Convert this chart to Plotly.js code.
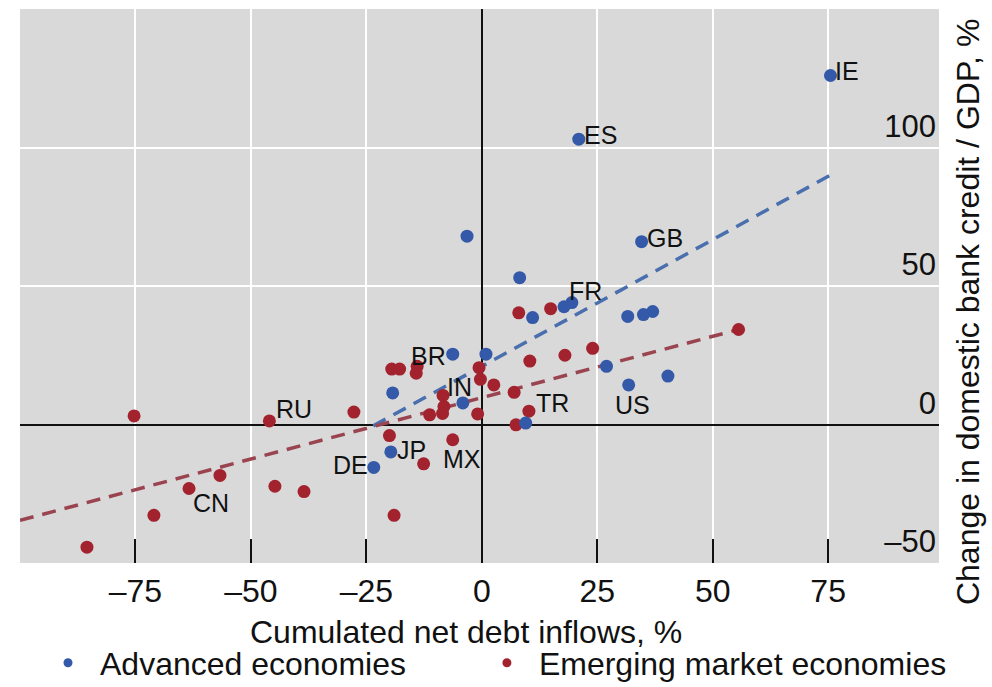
<!DOCTYPE html>
<html>
<head>
<meta charset="utf-8">
<script src="https://cdn.plot.ly/plotly-3.0.1.min.js"></script>
<style>
html,body{margin:0;padding:0;background:#fff;}
#chart{width:992px;height:687px;}
</style>
</head>
<body>
<div id="chart"></div>
<script>
// Advanced economies
const advX = [75.5, 21, 34.6, -3.2, 8.2, 17.8, 19.5, 11, 31.6, 35, 37, 27, 31.8, 40.3, 0.9, -6.3, -19.3, -4.1, -19.7, -23.4, 9.5];
const advY = [126, 103, 66, 68, 53, 42.5, 44, 38.6, 39, 39.7, 40.8, 21, 14.3, 17.5, 25.4, 25.4, 11.4, 7.8, -9.9, -15.5, 0.5];
// Emerging market economies
const emX = [55.6, 14.9, 8, 24, 18, 10.4, -0.6, -0.3, 2.6, 7, 10.2, 7.4, -0.9, -19.5, -17.8, -14, -14.2, -8.4, -8.2, -8.5, -11.3, -27.7, -20, -6.3, -12.6, -19, -46, -75.3, -56.7, -63.4, -44.8, -38.5, -71, -85.5];
const emY = [34.3, 41.8, 40.3, 27.5, 25, 22.9, 20.5, 16.3, 14.3, 11.6, 4.8, -0.1, 3.8, 20, 20, 21, 18.5, 10.5, 6.5, 4, 3.5, 4.5, -4, -5.5, -14.2, -32.8, 1.3, 3.1, -18.4, -23.1, -22.3, -24.2, -32.8, -44.3];
// Trend lines (end points)
const advTrendX = [-23.5, 76];
const advTrendY = [-0.5, 90.5];
const emTrendX = [-100, 55.6];
const emTrendY = [-34.6, 34.3];
// Country labels and the point they belong to
const labelCodes = ["IE", "ES", "GB", "FR", "BR", "IN", "US", "TR", "RU", "CN", "JP", "DE", "MX"];
const labelX = [75.5, 21, 34.6, 19.5, -6.3, -8.4, 31.8, 10.2, -46, -63.4, -19.7, -23.4, -6.3];
const labelY = [126, 103, 66, 44, 25.4, 10.5, 14.3, 4.8, 1.3, -23.1, -9.9, -15.5, -5.5];
const xTicks = [-75, -50, -25, 0, 25, 50, 75];
const yTicks = [-50, 0, 50, 100];
const seriesNames = ["Advanced economies", "Emerging market economies"];
const xTitle = "Cumulated net debt inflows, %";
const yTitle = "Change in domestic bank credit / GDP, %";

const BLUE = "#3459a8";
const RED = "#a2222e";
const FONT = "Liberation Sans, Arial, sans-serif";
const TXT = "#111111";

// label placement styling: [xanchor, yanchor, xshift, yshift]
const labelStyle = {
  IE: ["left", "middle", 3, 4],
  ES: ["left", "middle", 3, 4],
  GB: ["left", "middle", 3, 4],
  FR: ["left", "middle", -5, 12],
  BR: ["right", "middle", -5, -2],
  IN: ["left", "middle", 2, 8],
  US: ["center", "middle", 4, -20],
  TR: ["left", "middle", 5, 8],
  RU: ["left", "middle", 5, 12],
  CN: ["left", "middle", 2, -15],
  JP: ["left", "middle", 4, 2],
  DE: ["right", "middle", -4, 2],
  MX: ["center", "middle", 9, -19]
};
const fmt = v => v < 0 ? "\u2013" + Math.abs(v) : String(v);

const traces = [
  {x: advTrendX, y: advTrendY, mode: "lines", showlegend: false, hoverinfo: "skip",
   line: {color: "#4a6fae", width: 3.5, dash: "14px,9px"}},
  {x: emTrendX, y: emTrendY, mode: "lines", showlegend: false, hoverinfo: "skip",
   line: {color: "#9a4450", width: 3.5, dash: "14px,9px"}},
  {x: emX, y: emY, mode: "markers", showlegend: false,
   marker: {color: RED, size: 13}},
  {x: advX, y: advY, mode: "markers", showlegend: false,
   marker: {color: BLUE, size: 13}},
  {x: [null], y: [null], mode: "markers", name: seriesNames[0], legend: "legend",
   marker: {color: BLUE, size: 9}},
  {x: [null], y: [null], mode: "markers", name: seriesNames[1], legend: "legend2",
   marker: {color: RED, size: 9}}
];

const annotations = labelCodes.map((c, i) => {
  const s = labelStyle[c];
  return {x: labelX[i], y: labelY[i], text: c, showarrow: false,
    xanchor: s[0], yanchor: s[1], xshift: s[2], yshift: s[3],
    font: {family: FONT, size: 25, color: TXT}};
});
annotations.push({xref: "paper", yref: "paper", x: 0.4853, y: -0.1245,
  xanchor: "center", yanchor: "middle", showarrow: false, text: xTitle,
  font: {family: FONT, size: 32, color: TXT}});
annotations.push({xref: "paper", yref: "paper", x: 1, xshift: 29, y: 0.453,
  xanchor: "center", yanchor: "middle", showarrow: false, text: yTitle, textangle: -90,
  font: {family: FONT, size: 32, color: TXT}});

const legendBase = {orientation: "h", yref: "container", yanchor: "middle", y: 0.035, xanchor: "left",
  itemwidth: 54, font: {family: FONT, size: 32, color: TXT}, bgcolor: "rgba(0,0,0,0)", borderwidth: 0};

const layout = {
  width: 992, height: 687,
  margin: {l: 20, r: 53, t: 9, b: 124},
  paper_bgcolor: "#ffffff",
  plot_bgcolor: "#d9d9d9",
  font: {family: FONT, size: 32, color: TXT},
  showlegend: true,
  legend: Object.assign({}, legendBase, {x: 0.0174}),
  legend2: Object.assign({}, legendBase, {x: 0.495}),
  xaxis: {
    range: [-100, 99], tickvals: xTicks, ticktext: xTicks.map(fmt),
    ticks: "inside", ticklen: 24, tickwidth: 2, tickcolor: TXT,
    showgrid: true, gridcolor: "#ffffff", gridwidth: 2,
    zeroline: true, zerolinecolor: TXT, zerolinewidth: 2,
    showline: false, tickfont: {size: 32, color: TXT}, ticklabelstandoff: 6,
    automargin: false
  },
  yaxis: {
    range: [-50, 150], side: "right", tickvals: yTicks, ticktext: yTicks.map(fmt),
    ticklabelposition: "inside top", ticks: "",
    showgrid: true, gridcolor: "#ffffff", gridwidth: 2,
    zeroline: true, zerolinecolor: TXT, zerolinewidth: 2,
    showline: false, tickfont: {size: 31, color: TXT}, automargin: false
  },
  annotations: annotations
};

Plotly.newPlot("chart", traces, layout, {staticPlot: true, displayModeBar: false});
</script>
</body>
</html>
